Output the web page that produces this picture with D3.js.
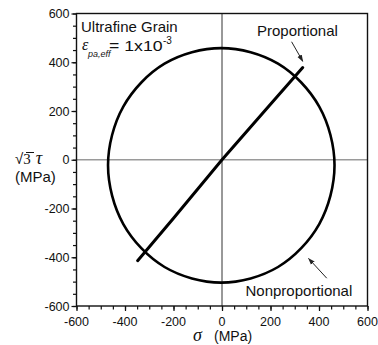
<!DOCTYPE html>
<html>
<head>
<meta charset="utf-8">
<script src="https://cdn.jsdelivr.net/npm/d3@7"></script>
<style>
  body { margin: 0; background: #fff; }
  text { font-family: Arial, "Liberation Sans", sans-serif; fill: #111; }
</style>
</head>
<body>
<div id="chart"></div>
<script>
// tick values
const xTicks = [-600, -400, -200, 0, 200, 400, 600];
const yTicks = [-600, -400, -200, 0, 200, 400, 600];
const minorTicks = d3.range(-600, 601, 50);

// nonproportional path (sigma, sqrt3*tau)
const nonpropSigma = [464, 401, 231, -3, -237, -407, -470, -407, -237, -3, 231, 401];
const nonpropTau   = [-23, 218, 394, 458, 394, 218, -23, -264, -440, -504, -440, -264];

// proportional path
const propSigma = [-348, -200, 0, 200, 333];
const propTau   = [-414, -240, 0, 228, 378];

const width = 378, height = 345;
const svg = d3.select('#chart').append('svg')
  .attr('width', width)
  .attr('height', height);

const x = d3.scaleLinear().domain([-600, 600]).range([76.5, 367.5]);
const y = d3.scaleLinear().domain([-600, 600]).range([306, 13.5]);

// zero lines
svg.append('line')
  .attr('x1', x(-600)).attr('x2', x(600))
  .attr('y1', y(0)).attr('y2', y(0))
  .attr('stroke', '#9a9a9a').attr('stroke-width', 1.5);
svg.append('line')
  .attr('x1', x(0)).attr('x2', x(0))
  .attr('y1', y(-600)).attr('y2', y(600))
  .attr('stroke', '#333').attr('stroke-width', 1);

// axes: minor and major ticks, no labels from the generator
const axisStyle = g => {
  g.select('.domain').remove();
  g.selectAll('line').attr('stroke', '#111').attr('stroke-width', 1.2);
};
svg.append('g').attr('transform', `translate(0,${y(-600)})`)
  .call(d3.axisBottom(x).tickValues(minorTicks).tickSize(3.5).tickFormat(''))
  .call(axisStyle);
svg.append('g').attr('transform', `translate(0,${y(-600)})`)
  .call(d3.axisBottom(x).tickValues(xTicks).tickSize(5).tickFormat(''))
  .call(axisStyle);
svg.append('g').attr('transform', `translate(${x(-600)},0)`)
  .call(d3.axisLeft(y).tickValues(minorTicks).tickSize(3.5).tickFormat(''))
  .call(axisStyle);
svg.append('g').attr('transform', `translate(${x(-600)},0)`)
  .call(d3.axisLeft(y).tickValues(yTicks).tickSize(5).tickFormat(''))
  .call(axisStyle);

// frame
svg.append('rect')
  .attr('x', x(-600)).attr('y', y(600))
  .attr('width', x(600) - x(-600)).attr('height', y(-600) - y(600))
  .attr('fill', 'none').attr('stroke', '#111').attr('stroke-width', 1.4);

// tick labels
svg.selectAll('.xlab').data(xTicks).enter().append('text')
  .attr('class', 'xlab')
  .attr('x', d => x(d)).attr('y', 325.5)
  .attr('text-anchor', 'middle')
  .style('font-size', '12.5px')
  .text(d => d);
svg.selectAll('.ylab').data(yTicks).enter().append('text')
  .attr('class', 'ylab')
  .attr('x', 69.5).attr('y', d => y(d) + 4.5)
  .attr('text-anchor', 'end')
  .style('font-size', '12.5px')
  .text(d => d);

// nonproportional circle
const nonprop = nonpropSigma.map((s, i) => [s, nonpropTau[i]]);
svg.append('path')
  .datum(nonprop)
  .attr('d', d3.line().x(d => x(d[0])).y(d => y(d[1])).curve(d3.curveCatmullRomClosed))
  .attr('fill', 'none').attr('stroke', '#000').attr('stroke-width', 2.6);

// proportional line
const prop = propSigma.map((s, i) => [s, propTau[i]]);
svg.append('path')
  .datum(prop)
  .attr('d', d3.line().x(d => x(d[0])).y(d => y(d[1])))
  .attr('fill', 'none').attr('stroke', '#000').attr('stroke-width', 3)
  .attr('stroke-linecap', 'round');

// arrows
svg.append('defs').append('marker')
  .attr('id', 'arr').attr('viewBox', '0 0 10 10')
  .attr('refX', 9).attr('refY', 5)
  .attr('markerWidth', 7).attr('markerHeight', 7)
  .attr('orient', 'auto')
  .append('path').attr('d', 'M0,1.5 L10,5 L0,8.5 Z').attr('fill', '#222');

const arrows = [
  [[287, 484], [333, 404]],
  [[432, -486], [357, -405]]
];
arrows.forEach(a => {
  svg.append('line')
    .attr('x1', x(a[0][0])).attr('y1', y(a[0][1]))
    .attr('x2', x(a[1][0])).attr('y2', y(a[1][1]))
    .attr('stroke', '#222').attr('stroke-width', 1)
    .attr('marker-end', 'url(#arr)');
});

// annotations
svg.append('text').attr('x', 81).attr('y', 31.5).style('font-size', '15px').text('Ultrafine Grain');
svg.append('text').attr('x', 257).attr('y', 35.5).style('font-size', '15px').text('Proportional');
svg.append('text').attr('x', 245.5).attr('y', 295.5).style('font-size', '15px').text('Nonproportional');

// strain amplitude label
svg.append('text').attr('x', 82).attr('y', 50)
  .style('font-family', '"Liberation Serif", serif').style('font-style', 'italic').style('font-size', '16px')
  .text('ε');
svg.append('text').attr('x', 88).attr('y', 56.5)
  .style('font-style', 'italic').style('font-size', '9px')
  .text('pa,eff');
svg.append('text').attr('transform', 'translate(109,50.5) scale(1.18,1)')
  .style('font-size', '15px')
  .text('= 1x10');
svg.append('text').attr('x', 163).attr('y', 43.5).style('font-size', '10px').text('-3');

// y axis title
const yt = svg.append('text').attr('x', 15).attr('y', 164).style('font-size', '15px');
yt.append('tspan').text('√');
yt.append('tspan').style('font-family', '"Liberation Serif", serif').text('3');
yt.append('tspan').attr('dx', 5)
  .style('font-family', '"Liberation Serif", serif').style('font-style', 'italic').style('font-size', '18px')
  .text('τ');
svg.append('line').attr('x1', 26).attr('x2', 34).attr('y1', 152.5).attr('y2', 152.5)
  .attr('stroke', '#111').attr('stroke-width', 1);
svg.append('text').attr('x', 15).attr('y', 182).style('font-size', '15px').text('(MPa)');

// x axis title
svg.append('text').attr('x', 193).attr('y', 340.5)
  .style('font-family', '"Liberation Serif", serif').style('font-style', 'italic').style('font-size', '18px')
  .text('σ');
svg.append('text').attr('x', 214).attr('y', 340.5).style('font-size', '14px').text('(MPa)');
</script>
</body>
</html>
